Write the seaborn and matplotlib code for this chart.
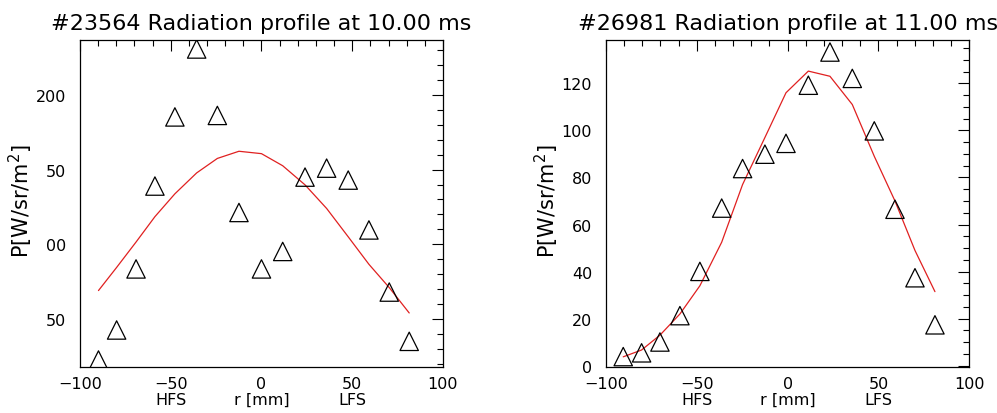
import matplotlib
matplotlib.use("Agg")
import matplotlib.pyplot as plt
import matplotlib.transforms as mtransforms
from matplotlib.ticker import MultipleLocator, FixedLocator, FixedFormatter
import seaborn as sns
import pandas as pd

# shot 23564 @ 10.00 ms
r_left = [-89.8, -79.8, -69.1, -58.7, -47.7, -35.7, -24.3, -12.4, 0.0, 11.7, 24.0, 35.9, 47.8, 59.2, 70.4, 81.4]
meas_left = [22.5, 42.6, 83.5, 139.0, 185.3, 230.8, 186.3, 121.3, 83.5, 95.2, 145.0, 151.0, 143.0, 109.6, 68.0, 35.0]
fit_left = [69.0, 84.5, 101.5, 118.5, 133.8, 147.8, 157.5, 162.3, 160.7, 152.6, 139.8, 124.0, 105.0, 86.6, 71.0, 54.0]
yticks_left = [50, 100, 150, 200]
yticklabels_left = ["50", "00", "50", "200"]

# shot 26981 @ 11.00 ms
r_right = [-90.5, -80.4, -70.3, -59.3, -48.3, -36.3, -24.8, -12.5, -0.9, 11.4, 23.3, 35.6, 47.7, 59.1, 70.1, 81.1]
meas_right = [3.9, 5.5, 10.1, 21.3, 40.1, 67.0, 83.8, 89.9, 94.5, 119.2, 133.3, 122.1, 99.8, 66.5, 37.4, 17.4]
fit_right = [3.8, 6.7, 13.0, 22.0, 34.0, 52.5, 77.0, 97.0, 116.0, 125.2, 123.0, 111.0, 89.0, 70.0, 49.0, 31.5]
yticks_right = [0, 20, 40, 60, 80, 100, 120]

sns.set_style("white")
plt.rcParams['font.family'] = ['DejaVu Sans']
plt.rcParams['text.color'] = 'black'
plt.rcParams['axes.labelcolor'] = 'black'

fig = plt.figure(figsize=(9.97, 4.14), dpi=100)
ax1 = fig.add_axes([0.0802, 0.1118, 0.3641, 0.7891])
ax2 = fig.add_axes([0.6078, 0.1118, 0.3644, 0.7891])

panels = [
    (ax1, r_left, meas_left, fit_left, "#23564 Radiation profile at 10.00 ms", (18.0, 236.8), 10),
    (ax2, r_right, meas_right, fit_right, "#26981 Radiation profile at 11.00 ms", (-0.4, 138.4), 5),
]

for ax, r, meas, fit, title, ylim, yminor in panels:
    df = pd.DataFrame({"r": r, "meas": meas, "fit": fit})
    sns.lineplot(data=df, x="r", y="fit", ax=ax, color="#e02020", linewidth=0.9, sort=False)
    sns.scatterplot(data=df, x="r", y="meas", ax=ax, marker="^", s=175,
                    facecolor="none", edgecolor="black", linewidth=0.9, zorder=3)
    ax.set_xlim(-100, 100)
    ax.set_ylim(*ylim)
    ax.xaxis.set_major_locator(MultipleLocator(50))
    ax.xaxis.set_minor_locator(MultipleLocator(10))
    ax.yaxis.set_minor_locator(MultipleLocator(yminor))
    ax.tick_params(which="both", direction="in", top=True, right=True, colors="black", width=0.8)
    ax.tick_params(which="major", length=8, labelsize=11.5)
    ax.tick_params(which="minor", length=4)
    ax.tick_params(axis="x", pad=7)
    ax.tick_params(axis="y", pad=10)
    for sp in ax.spines.values():
        sp.set_color("black")
        sp.set_linewidth(0.9)
    ax.set_title(title, fontsize=16, pad=8, color="black")
    ax.set_xlabel("")
    ax.set_ylabel("P[W/sr/m$^2$]", fontsize=15)
    ax.yaxis.set_label_coords(-0.125, 0.51)
    trans = mtransforms.blended_transform_factory(ax.transData, ax.transAxes)
    for xpos, lab in [(-50, "HFS"), (0, "r [mm]"), (50, "LFS")]:
        ax.text(xpos, -0.077, lab, transform=trans, ha="center", va="top", fontsize=11.5)

ax1.yaxis.set_major_locator(FixedLocator(yticks_left))
ax1.yaxis.set_major_formatter(FixedFormatter(yticklabels_left))
ax2.yaxis.set_major_locator(FixedLocator(yticks_right))

fig.savefig("out.png", dpi=100)
